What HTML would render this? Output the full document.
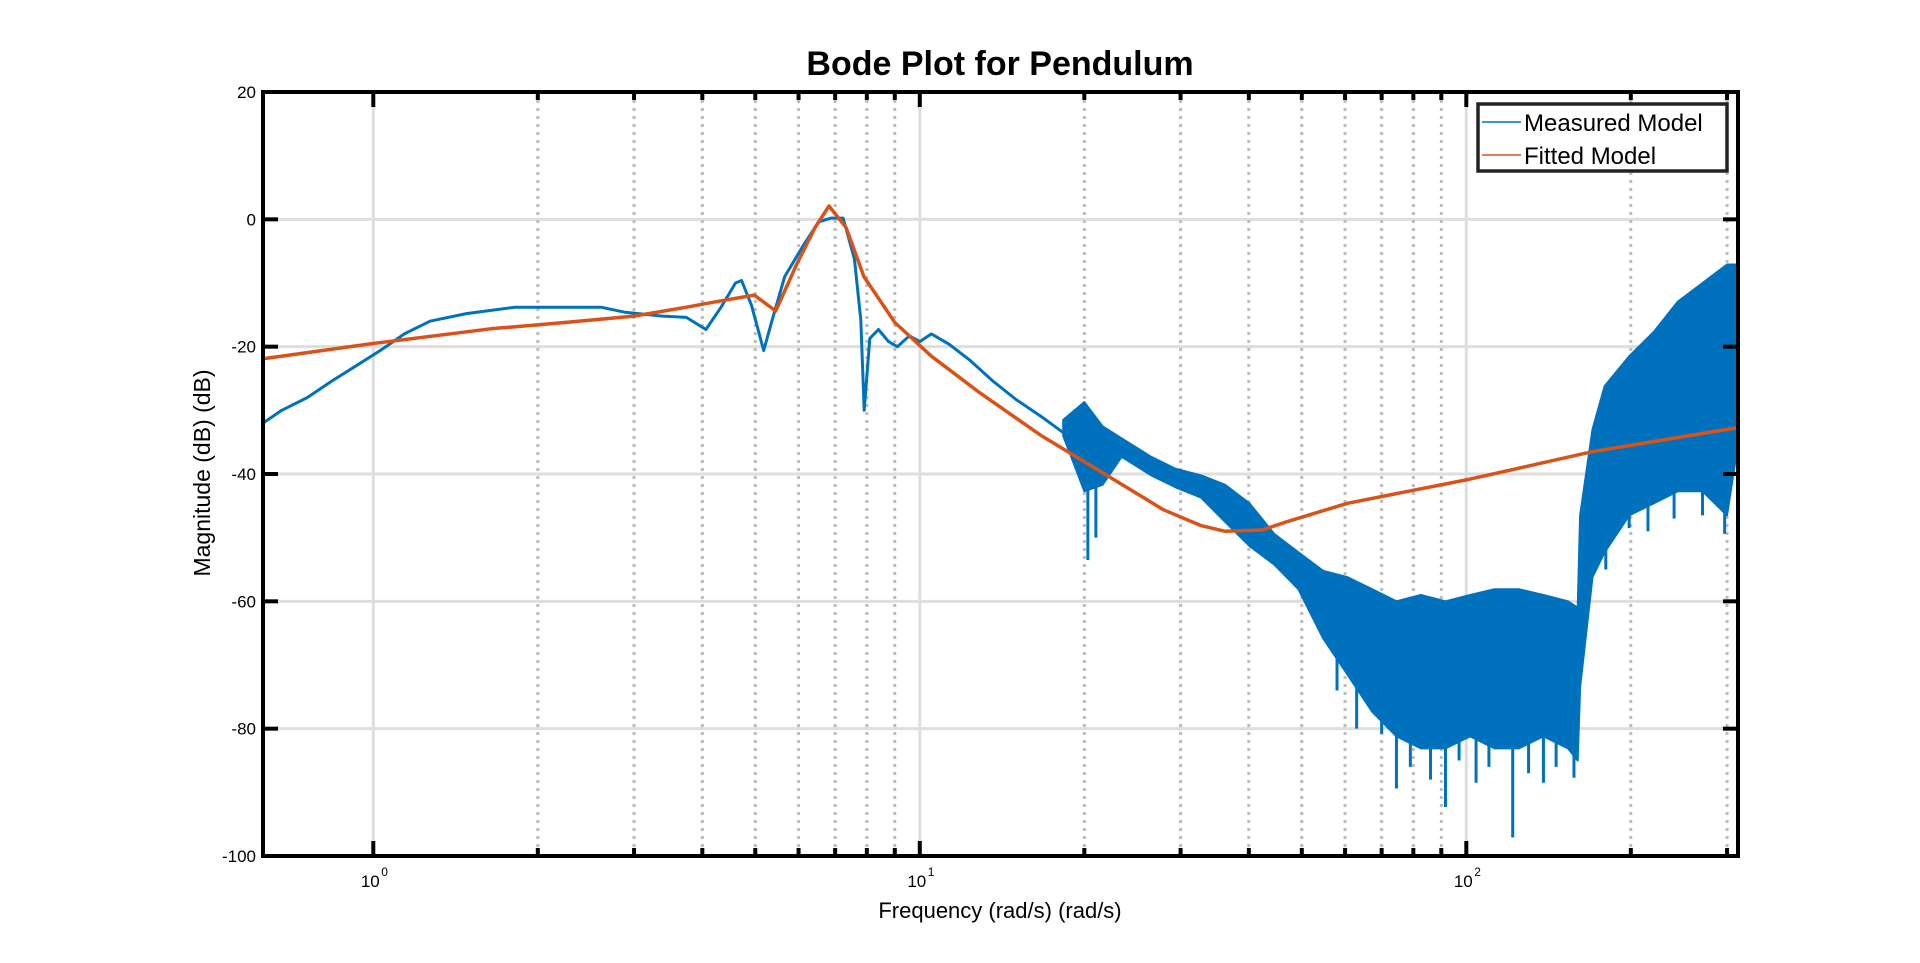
<!DOCTYPE html>
<html><head><meta charset="utf-8">
<style>
html,body{margin:0;padding:0;background:#fff;}
svg{display:block;font-family:"Liberation Sans",Arial,sans-serif;}
</style></head>
<body>
<svg id="chart" width="1920" height="963" viewBox="0 0 1920 963">
  <rect x="0" y="0" width="1920" height="963" fill="#fff"/>
  <text x="1000" y="75" font-size="34" font-weight="bold" text-anchor="middle" fill="#000">Bode Plot for Pendulum</text>
  <g id="grid"></g>
  <g id="series"></g>
  <g id="axes"></g>
  <text x="1000" y="918" font-size="22" text-anchor="middle" fill="#000">Frequency (rad/s)  (rad/s)</text>
  <text x="0" y="0" font-size="23" text-anchor="middle" fill="#000" transform="translate(210,473) rotate(-90)">Magnitude (dB) (dB)</text>
  <g>
    <rect x="1478" y="104" width="249" height="67" fill="#fff" stroke="#222" stroke-width="3.5"/>
    <line x1="1482" y1="122" x2="1521" y2="122" stroke="#0072BD" stroke-width="1.5"/>
    <text x="1524" y="131" font-size="24" fill="#000">Measured Model</text>
    <line x1="1482" y1="155" x2="1521" y2="155" stroke="#D95319" stroke-width="1.5"/>
    <text x="1524" y="164" font-size="24" fill="#000">Fitted Model</text>
  </g>
</svg>
<script>
// ---- data ----
const yTicks = [20, 0, -20, -40, -60, -80, -100];
const yTickLabels = ["20", "0", "-20", "-40", "-60", "-80", "-100"];
const xDecades = [1, 10, 100];
const xDecadeExp = ["0", "1", "2"];
// measured model, smooth part: frequency (rad/s), magnitude (dB)
const measFreq = [0.628,0.68,0.757,0.84,0.93,1.03,1.14,1.27,1.48,1.82,2.24,2.61,2.89,3.38,3.74,4.06,4.33,4.6,4.72,4.92,5.18,5.37,5.66,6.11,6.53,6.88,7.24,7.59,7.8,7.91,8.1,8.4,8.77,9.1,9.57,10,10.5,11.3,12.3,13.6,15,16.7,18.3];
const measMag = [-32,-30,-28,-25.4,-23,-20.6,-18,-16,-14.8,-13.8,-13.8,-13.8,-14.6,-15.2,-15.4,-17.3,-13.8,-10,-9.6,-13.5,-20.6,-15.8,-9,-4.2,-0.4,0.2,0.2,-6.2,-15.8,-30,-18.7,-17.3,-19.2,-20,-18.3,-19.2,-18,-19.6,-22,-25.4,-28.3,-31,-33.5];
// measured model, noisy part: envelope band
const bandFreq = [18.3,20.0,21.6,23.4,26.5,29.4,32.7,36.2,40.1,44.5,49.3,54.7,60.6,67.2,74.5,82.6,91.6,101.6,112.6,124.8,138.4,153.5,159.9,161.5,170.2,179.1,198.6,220.2,243.9,270.5,299.9,314.6];
const bandUpper = [-31.5,-28.7,-32.5,-34.4,-37.3,-39.2,-40.2,-41.7,-44.6,-49.4,-52.3,-55.2,-56.2,-58.1,-60,-59,-60,-59,-58.1,-58.1,-59,-60,-61,-46.5,-33,-26.2,-21.5,-17.7,-12.9,-10,-7.1,-7.1];
const bandLower = [-34,-42.7,-41.7,-37.3,-40.2,-42.1,-43.7,-47.5,-51.3,-54.2,-58.1,-65.8,-71.5,-77.3,-81.2,-83.1,-83.1,-81.2,-83.1,-83.1,-81.2,-83.1,-85,-73.5,-56.2,-52.3,-46.5,-44.6,-42.7,-42.7,-46.5,-35];
// isolated downward spikes
const spikeFreq = [20.3,21.0,58,63,70,74.5,79,86,91.6,97,104.2,110,121.6,130,138.4,146,157.4,165,180,198.6,215,240,270.5,297];
const spikeTop = [-40,-40,-65,-70,-75,-78,-78,-80,-80,-78,-78,-80,-80,-78,-78,-80,-80,-50,-45,-40,-40,-38,-38,-40];
const spikeBottom = [-53.5,-50,-74,-80,-80.8,-89.4,-86,-88,-92.3,-85,-88.5,-86,-97.1,-87,-88.5,-86,-87.7,-62,-55,-48.5,-49,-47,-46.5,-49.4];
// fitted model
const fitFreq = [0.628,0.98,1.64,2.24,3.0,3.74,4.33,4.98,5.45,5.95,6.43,6.82,7.33,7.9,9.0,10.5,12.9,16.7,21.6,27.9,32.7,36.2,42.3,46.9,60.6,101.6,170,314.6];
const fitMag = [-21.9,-19.6,-17.2,-16.2,-15.2,-13.8,-12.8,-11.9,-14.4,-7.1,-1.3,2.1,-1.3,-9,-16.2,-21.5,-27.3,-34,-39.8,-45.6,-48.1,-49,-48.8,-47.5,-44.6,-40.8,-36.5,-32.7];

// ---- axes ----
const L = 263, R = 1738, T = 92, B = 856;
const xMin = Math.log10(0.2 * Math.PI), xMax = Math.log10(100 * Math.PI);
const yMin = -100, yMax = 20;
function X(f) { return L + (Math.log10(f) - xMin) / (xMax - xMin) * (R - L); }
function Y(v) { return B - (v - yMin) / (yMax - yMin) * (B - T); }
const NS = "http://www.w3.org/2000/svg";
function mk(tag, attrs, parent) {
  const e = document.createElementNS(NS, tag);
  for (const k in attrs) e.setAttribute(k, attrs[k]);
  parent.appendChild(e);
  return e;
}
const grid = document.getElementById('grid');
const series = document.getElementById('series');
const axes = document.getElementById('axes');

yTicks.forEach((v, i) => {
  const y = Y(v);
  if (v !== yMin && v !== yMax) {
    const g = mk('line', {x1: L, x2: R, y1: y, y2: y, stroke: '#dedede', 'stroke-width': 3}, grid);
    
    
  }
  const t1 = mk('line', {x1: L, x2: L + 15, y1: y, y2: y, stroke: '#000', 'stroke-width': 4}, axes);
  
  
  const t2 = mk('line', {x1: R - 15, x2: R, y1: y, y2: y, stroke: '#000', 'stroke-width': 4}, axes);
  
  
  const lab = mk('text', {x: 256, y: y + 6, 'font-size': 17, 'text-anchor': 'end', fill: '#000'}, axes);
  lab.textContent = yTickLabels[i];
  
  
});

xDecades.forEach((d, i) => {
  for (let m = 1; m <= 9; m++) {
    const f = d * m;
    if (f < 0.2 * Math.PI || f > 100 * Math.PI) continue;
    const x = X(f);
    const major = m === 1;
    const g = mk('line', {x1: x, x2: x, y1: T, y2: B, stroke: major ? '#dedede' : '#bdbdbd', 'stroke-width': 3}, grid);
    if (!major) g.setAttribute('stroke-dasharray', '3 5');
    
    
    const len = major ? 15 : 8;
    const tb = mk('line', {x1: x, x2: x, y1: B, y2: B - len, stroke: '#000', 'stroke-width': 4}, axes);
    
    
    const tt = mk('line', {x1: x, x2: x, y1: T, y2: T + len, stroke: '#000', 'stroke-width': 4}, axes);
    
    
  }
  const x = X(d);
  const lab = mk('text', {x: x - 3, y: 887, 'font-size': 17, 'text-anchor': 'middle', fill: '#000'}, axes);
  lab.textContent = '10';
  
  
  const sup = mk('text', {x: x + 8, y: 876, 'font-size': 12, fill: '#000'}, axes);
  sup.textContent = xDecadeExp[i];
  
  
});

const defs = mk('defs', {}, series);
const cp = mk('clipPath', {id: 'clip'}, defs);
mk('rect', {x: L, y: T, width: R - L, height: B - T}, cp);
series.setAttribute('clip-path', 'url(#clip)');

let d = measFreq.map((f, i) => (i ? 'L' : 'M') + X(f).toFixed(1) + ' ' + Y(measMag[i]).toFixed(1)).join(' ');
const meas = mk('path', {d: d, fill: 'none', stroke: '#0072BD', 'stroke-width': 3, 'stroke-linejoin': 'round'}, series);



let up = bandFreq.map((f, i) => X(f).toFixed(1) + ' ' + Y(bandUpper[i]).toFixed(1));
let lo = bandFreq.map((f, i) => X(f).toFixed(1) + ' ' + Y(bandLower[i]).toFixed(1)).reverse();
const band = mk('path', {d: 'M' + up.join(' L') + ' L' + lo.join(' L') + ' Z', fill: '#0072BD', stroke: '#0072BD', 'stroke-width': 2, 'stroke-linejoin': 'round'}, series);



spikeFreq.forEach((f, i) => {
  const s = mk('line', {x1: X(f), x2: X(f), y1: Y(spikeTop[i]), y2: Y(spikeBottom[i]), stroke: '#0072BD', 'stroke-width': 3}, series);
  
  
});

d = fitFreq.map((f, i) => (i ? 'L' : 'M') + X(f).toFixed(1) + ' ' + Y(fitMag[i]).toFixed(1)).join(' ');
const fit = mk('path', {d: d, fill: 'none', stroke: '#D95319', 'stroke-width': 3.5, 'stroke-linejoin': 'round'}, series);



const box = mk('rect', {x: L, y: T, width: R - L, height: B - T, fill: 'none', stroke: '#000', 'stroke-width': 4}, axes);


</script>
</body></html>
